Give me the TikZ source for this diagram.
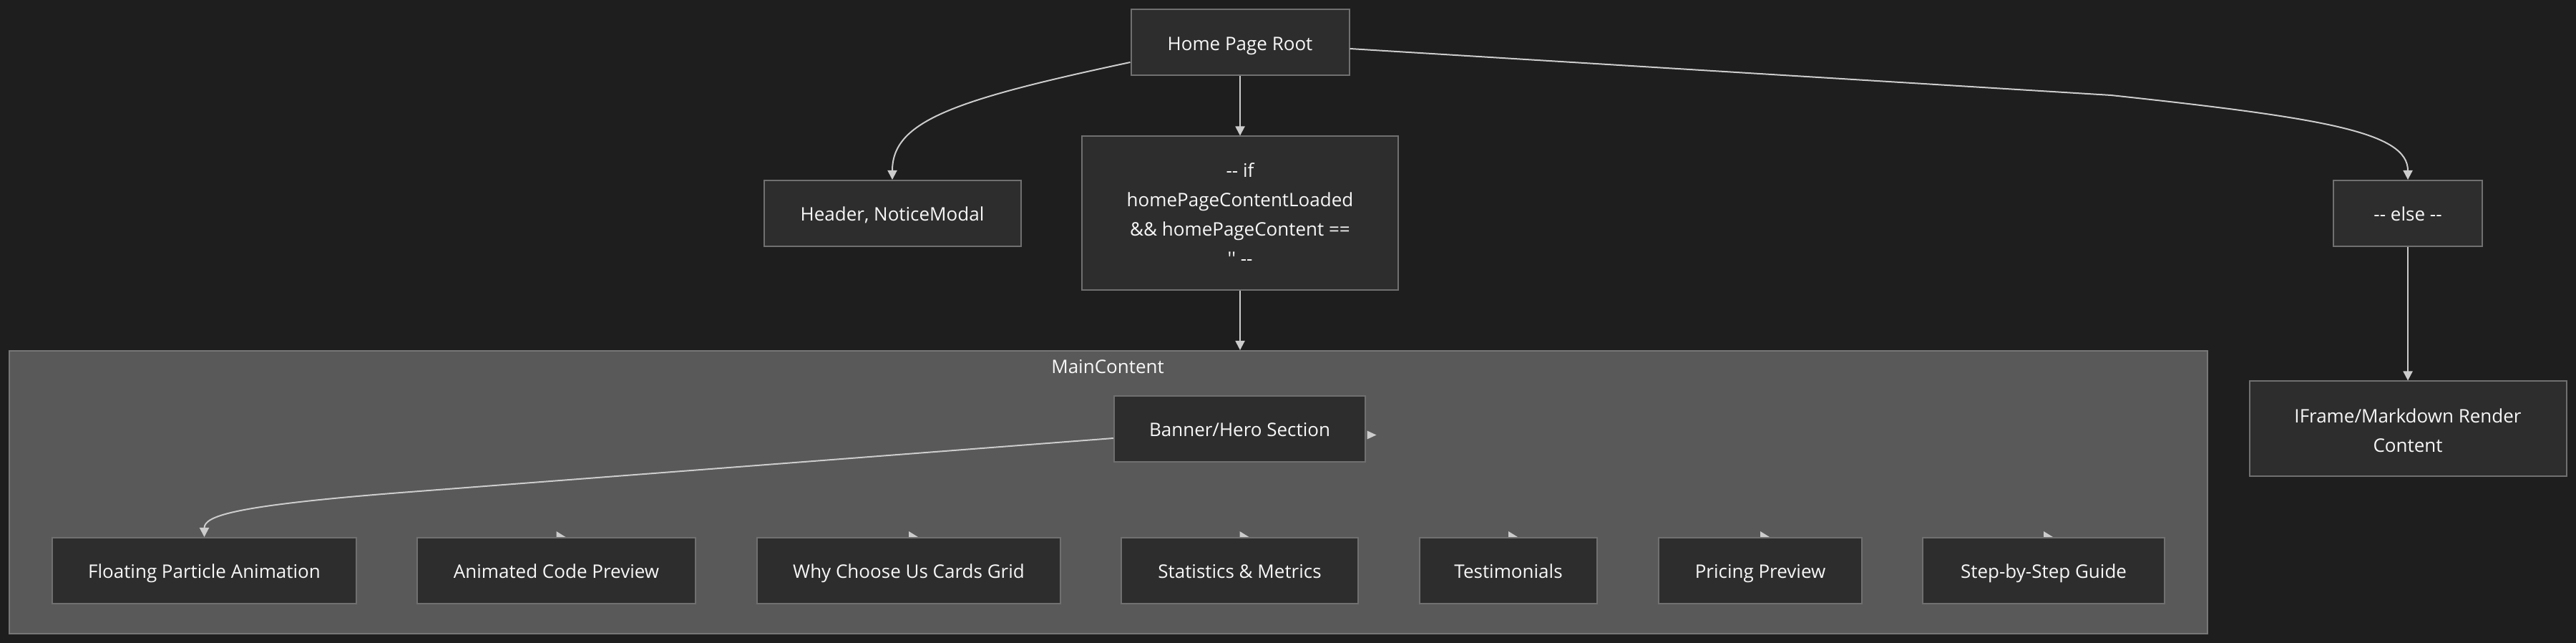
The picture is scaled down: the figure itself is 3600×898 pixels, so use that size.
\documentclass[tikz,border=0pt]{standalone}
\usepackage{fontspec}
\setmainfont{Open Sans}
\usetikzlibrary{arrows.meta,calc}
\definecolor{bgc}{HTML}{1E1E1E}
\definecolor{nodefill}{HTML}{2D2D2D}
\definecolor{nodeline}{HTML}{707070}
\definecolor{clfill}{HTML}{595959}
\definecolor{clline}{HTML}{777777}
\definecolor{edgec}{HTML}{CCCCCC}
\definecolor{txtc}{HTML}{F7F7F7}
\begin{document}
\begin{tikzpicture}[x=0.1mm,y=-0.1mm,
  box/.style={draw=nodeline, fill=nodefill, line width=0.2mm, inner sep=0pt,
    text=txtc, align=center, font=\fontsize{7.4pt}{11.6pt}\selectfont,
    execute at begin node={\rule{0pt}{2.8mm}\vphantom{Hg}}, execute at end node={\vphantom{Hg}}},
  txt/.style={text=txtc, align=center, inner sep=0pt, font=\fontsize{7.4pt}{11.6pt}\selectfont},
  cluster/.style={draw=clline, fill=clfill, line width=0.2mm, inner sep=0pt},
  lbl/.style={text=txtc, font=\fontsize{7.4pt}{11.6pt}\selectfont, inner sep=0pt},
  edge/.style={draw=edgec, line width=0.2mm, -{Triangle[length=1.3mm,width=1.3mm]}},
  tip/.style={fill=edgec}
]
\useasboundingbox (0,0) rectangle (3600,898);
\fill[bgc] (0,0) rectangle (3600,898);

% cluster
\node[cluster, minimum width=307.2mm, minimum height=39.5mm] (main) at (1548.5,687.5) {};
\node[lbl] (mainlbl) at (1548,512) {MainContent};

% top nodes
\node[box, minimum width=30.5mm, minimum height=9.2mm] (home) at (1733,59.5) {Home Page Root};
\node[box, minimum width=35.9mm, minimum height=9.2mm] (header) at (1247,298) {Header, NoticeModal};
\node[box, minimum width=44.2mm, minimum height=21.5mm] (ifn) at (1733,298) {};
\node[txt] (ifntxt) at ($(ifn.center)+(0,1)$)
  {-{}- if\\homePageContentLoaded\\\&\& homePageContent ==\\\textquotesingle\textquotesingle\ -{}-};
\node[box, minimum width=20.8mm, minimum height=9.2mm] (else) at (3365,298) {-{}- else -{}-};
\node[box, minimum width=44.3mm, minimum height=13.3mm] (iframe) at (3365,599) {};
\node[txt] (iframetxt) at ($(iframe.center)+(0,2.5)$) {IFrame/Markdown Render\\Content};

% inner nodes
\node[box, minimum width=35.1mm, minimum height=9.2mm] (banner) at (1732.5,599) {Banner/Hero Section};
\node[box, minimum width=42.5mm, minimum height=9.2mm] (floating) at (285.5,797) {Floating Particle Animation};
\node[box, minimum width=38.9mm, minimum height=9.2mm] (animated) at (777.5,797) {Animated Code Preview};
\node[box, minimum width=42.4mm, minimum height=9.2mm] (why) at (1270,797) {Why Choose Us Cards Grid};
\node[box, minimum width=33.1mm, minimum height=9.2mm] (stats) at (1732.5,797) {Statistics \& Metrics};
\node[box, minimum width=24.8mm, minimum height=9.2mm] (testi) at (2108,797) {Testimonials};
\node[box, minimum width=28.4mm, minimum height=9.2mm] (pricing) at (2460,797) {Pricing Preview};
\node[box, minimum width=33.8mm, minimum height=9.2mm] (stepg) at (2856,797) {Step-by-Step Guide};

% edges
\draw[edge] ($(home.west)+(0,27.5)$) .. controls (1330,140) and (1247,170) .. (header.north);
\draw[edge] (home.south) -- (ifn.north);
\draw[edge] ($(home.east)+(0,8.5)$) -- (2950,133) .. controls (3250,165) and (3365,185) .. (else.north);
\draw[edge] (ifn.south) -- (ifn.south |- main.north);
\draw[edge] (else.south) -- (iframe.north);
\draw[edge] ($(banner.west)+(0,13)$) -- (560,688) .. controls (330,706) and (285.5,720) .. (floating.north);

% small stray arrowheads
\fill[tip] ($(banner.east)+(1.5,2.5)$) -- ++(13,6) -- ++(-13,6) -- cycle;
\foreach \n in {animated,why,stats,testi,pricing,stepg}{
  \fill[tip] (\n.north) -- ++(0,-8) -- ++(13,8) -- cycle;
}
\end{tikzpicture}
\end{document}
